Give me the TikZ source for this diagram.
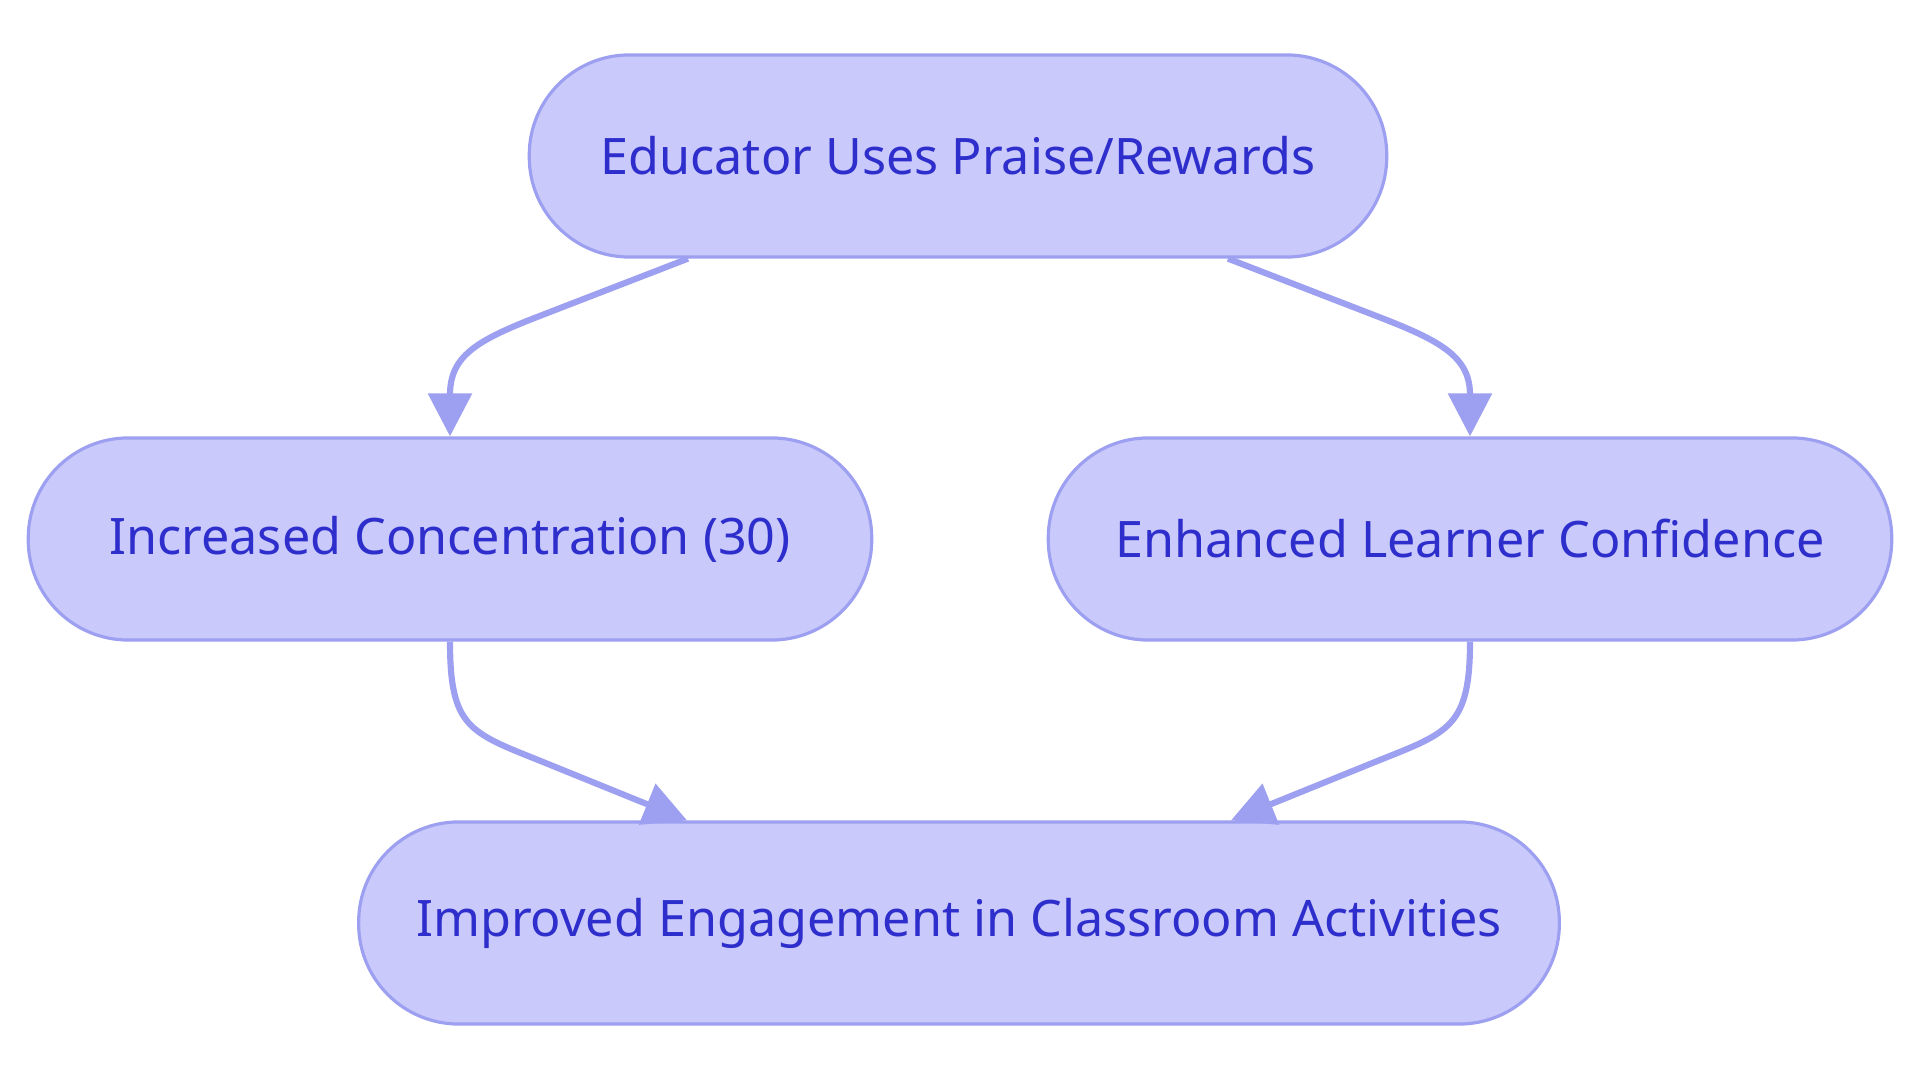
\documentclass[tikz,border=0pt]{standalone}
\usepackage{fontspec}
\setmainfont{Noto Sans}
\usepackage{tikz}
\usetikzlibrary{positioning, arrows.meta, calc}

\definecolor{stepfill}{RGB}{201,201,251}
\definecolor{stepline}{RGB}{157,160,240}
\definecolor{steptext}{RGB}{46,46,204}

\begin{document}
\begin{tikzpicture}[x=0.01cm, y=-0.01cm,
    >={Triangle[length=0.43cm, width=0.43cm]},
    stepbox/.style={draw=stepline, line width=0.9pt, fill=stepfill, rounded corners=1cm,
                    minimum height=2.02cm, text=steptext, align=center,
                    font=\fontsize{14.3}{17}\selectfont, inner sep=0pt},
    link/.style={->, draw=stepline, line width=1.75pt}]
    \useasboundingbox (0,0) rectangle (1920,1083);
    \node[stepbox, minimum width=8.57cm] (praise) at (958,156) {Educator Uses Praise/Rewards};
    \node[stepbox, minimum width=8.43cm] (focus) at (450,539) {Increased Concentration (30)};
    \node[stepbox, minimum width=8.43cm] (confid) at (1470,539) {Enhanced Learner Confidence};
    \node[stepbox, minimum width=12.00cm] (engage) at (959,923) {Improved Engagement in Classroom Activities};
    % upper links: straight run, then bend down
    \draw[link] ($(praise.south)+(-270,0)$) -- ++(-150,58)
        .. controls +(-62,24) and +(0,-80) .. (focus.north);
    \draw[link] ($(praise.south)+(270,0)$) -- ++(150,58)
        .. controls +(62,24) and +(0,-80) .. (confid.north);
    % lower links: bend, then straight run
    \draw[link] (focus.south) .. controls +(0,85) and +(-70,-28)
        .. ($(engage.north)+(-420,-60)$) -- ($(engage.north)+(-272,0)$);
    \draw[link] (confid.south) .. controls +(0,85) and +(70,-28)
        .. ($(engage.north)+(420,-60)$) -- ($(engage.north)+(272,0)$);
\end{tikzpicture}
\end{document}
